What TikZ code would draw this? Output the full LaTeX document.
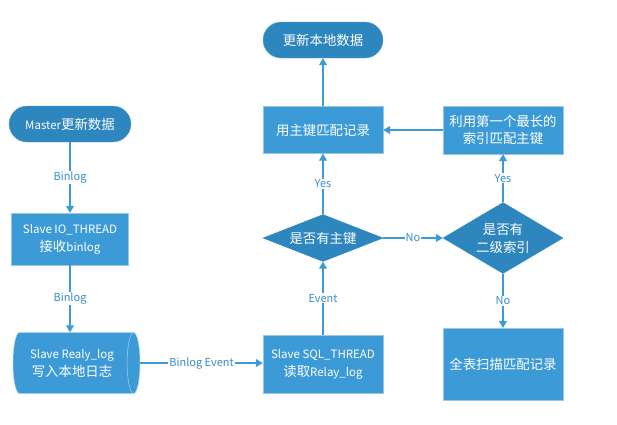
\documentclass[tikz,border=0pt]{standalone}
\usepackage{fontspec}
\setmainfont{Noto Sans CJK SC}
\usepackage{xcolor}
\usetikzlibrary{arrows.meta,shapes.geometric,positioning}
\definecolor{BoxBlue}{HTML}{3C9AD7}
\definecolor{DeepBlue}{HTML}{2E86BF}
\definecolor{LineBlue}{HTML}{3C9AD7}
\definecolor{LabelBlue}{HTML}{3A8CCB}
\newcommand{\boxfont}{\fontsize{11.5}{18}\selectfont}
\newcommand{\zh}[1]{{\fontsize{13.4}{18}\selectfont #1}}
\tikzset{
  procbox/.style={rectangle,fill=BoxBlue,draw=BoxBlue!55!white,line width=.4pt,
    text=white,align=center,minimum width=120pt,inner sep=2pt,font=\boxfont},
  pill/.style={procbox,fill=DeepBlue,draw=DeepBlue!70!white,rounded corners=18pt,
    minimum height=36pt},
  decide/.style={diamond,fill=DeepBlue,draw=DeepBlue,text=white,align=center,
    inner sep=0pt,minimum width=120pt,font=\boxfont},
  store/.style={cylinder,fill=BoxBlue,draw=white!55!BoxBlue,line width=.5pt,
    text=white,align=center,aspect=0.4,minimum width=61pt,minimum height=127pt,
    inner sep=2pt,font=\boxfont},
  flow/.style={draw=LineBlue,line width=1.1pt,-{Triangle[width=8pt,length=7pt]}},
  tag/.style={fill=white,text=LabelBlue,inner sep=1pt,font=\fontsize{11}{13}\selectfont},
}

\begin{document}
\begin{tikzpicture}[x=1pt,y=-1pt]
    \useasboundingbox (0,0) rectangle (617,424);

    % left column
    \node[pill,minimum width=122pt] (master) at (70,124) {Master\zh{更新数据}};
    \node[procbox,minimum width=117pt,minimum height=52pt] (io) at (70,239) {Slave IO\_THREAD\\\zh{接收}binlog};
    \node[store] (relay) at (72,363) {Slave Realy\_log\\\zh{写入本地日志}};

    % middle column
    \node[procbox,minimum height=58pt] (sql) at (323,364) {Slave SQL\_THREAD\\\zh{读取}Relay\_log};
    \node[decide,aspect=2.55,minimum height=47pt] (pkey) at (323,238) {\zh{是否有主键}};
    \node[procbox,minimum height=47pt] (pkmatch) at (323,130) {\zh{用主键匹配记录}};
    \node[pill] (update) at (323,40) {\zh{更新本地数据}};

    % right column
    \node[procbox,minimum height=48pt,font=\fontsize{11.5}{16.5}\selectfont] (idxmatch) at (503,130)
        {\zh{利用第一个最长的}\\\zh{索引匹配主键}};
    \node[decide,aspect=1.7,minimum height=71pt] (sidx) at (503,238) {\zh{是否有}\\\zh{二级索引}};
    \node[procbox,minimum height=72pt] (fullscan) at (503,364) {\zh{全表扫描匹配记录}};

    % connectors
    \draw[flow] (master) -- node[tag] {Binlog} (io);
    \draw[flow] (io.south) -- node[tag] {Binlog} (io.south |- relay.north);
    \draw[flow] (relay.east) -- node[tag] {Binlog Event} (relay.east -| sql.west);
    \draw[flow] (sql) -- node[tag] {Event} (pkey);
    \draw[flow] (pkey) -- node[tag] {Yes} (pkmatch);
    \draw[flow] (pkmatch) -- (update);
    \draw[flow] (pkey) -- node[tag] {No} (sidx);
    \draw[flow] (sidx) -- node[tag] {Yes} (idxmatch);
    \draw[flow] (idxmatch) -- (pkmatch);
    \draw[flow] (sidx) -- node[tag] {No} (fullscan);
\end{tikzpicture}
\end{document}
